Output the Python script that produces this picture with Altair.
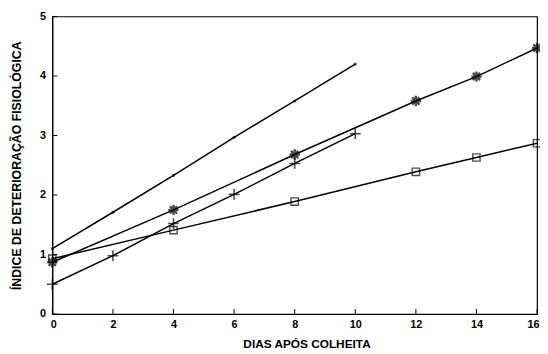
import altair as alt
import pandas as pd

dias_a = [0, 2, 4, 6, 8, 10]
serie_ponto = [1.10, 1.71, 2.33, 2.97, 3.58, 4.20]
serie_cruz = [0.50, 0.98, 1.52, 2.01, 2.53, 3.03]

dias_b = [0, 4, 8, 12, 14, 16]
serie_asterisco = [0.87, 1.75, 2.68, 3.58, 3.99, 4.47]
serie_quadrado = [0.93, 1.41, 1.89, 2.39, 2.63, 2.87]

x_ticks = [0, 2, 4, 6, 8, 10, 12, 14, 16]
y_ticks = [0, 1, 2, 3, 4, 5]

rows = []
for d, v in zip(dias_a, serie_ponto):
    rows.append({"dia": d, "valor": v, "serie": "ponto"})
for d, v in zip(dias_a, serie_cruz):
    rows.append({"dia": d, "valor": v, "serie": "cruz"})
for d, v in zip(dias_b, serie_asterisco):
    rows.append({"dia": d, "valor": v, "serie": "asterisco"})
for d, v in zip(dias_b, serie_quadrado):
    rows.append({"dia": d, "valor": v, "serie": "quadrado"})
df = pd.DataFrame(rows)
df_xt = pd.DataFrame({"dia": x_ticks})
df_yt = pd.DataFrame({"valor": y_ticks})

FONT = "Liberation Sans"
W, H = 492, 302

xscale = alt.Scale(domain=[0, 16], nice=False)
yscale = alt.Scale(domain=[0, 5], nice=False)

x = alt.X("dia:Q", scale=xscale,
          axis=alt.Axis(values=x_ticks, format="d", title="DIAS APÓS COLHEITA", grid=False,
                        ticks=False, labelPadding=5, titlePadding=9, titleX=258,
                        labelFont=FONT, labelFontWeight="bold", labelFontSize=11,
                        titleFont=FONT, titleFontWeight="bold", titleFontSize=12,
                        domainColor="black", labelColor="black",
                        titleColor="black", labelFlush=True, labelFlushOffset=2))
y = alt.Y("valor:Q", scale=yscale,
          axis=alt.Axis(values=y_ticks, format="d", title="ÍNDICE DE DETERIORAÇÃO FISIOLÓGICA",
                        grid=False, ticks=False, labelPadding=7, titlePadding=16,
                        labelFont=FONT, labelFontWeight="bold", labelFontSize=11,
                        titleFont=FONT, titleFontWeight="bold", titleFontSize=12.5,
                        domainColor="black", labelColor="black",
                        titleColor="black", labelFlush=False))

lines = alt.Chart(df).mark_line(color="black", strokeWidth=1.5).encode(
    x=x, y=y, detail="serie:N")

xt = alt.Chart(df_xt).mark_rule(color="black", strokeWidth=1).encode(
    x=alt.X("dia:Q", scale=xscale), y=alt.value(H), y2=alt.value(H - 5))
yt = alt.Chart(df_yt).mark_rule(color="black", strokeWidth=1).encode(
    y=alt.Y("valor:Q", scale=yscale), x=alt.value(0), x2=alt.value(5))

def pts(name, **kw):
    return alt.Chart(df).transform_filter(alt.datum.serie == name).mark_point(
        color="black", **kw).encode(x=x, y=y)

p_ponto = pts("ponto", shape="circle", filled=True, size=10)
p_cruz = pts("cruz", shape="M-1,0L1,0M0,-1L0,1", filled=False, size=120, strokeWidth=1.6)
p_ast = pts("asterisco", shape="M-1,0L1,0M0,-1L0,1M-0.7,-0.7L0.7,0.7M-0.7,0.7L0.7,-0.7",
            filled=False, size=110, strokeWidth=2.4)
p_quad = pts("quadrado", shape="square", filled=False, size=55, strokeWidth=1.4)

chart = alt.layer(lines, xt, yt, p_ponto, p_cruz, p_ast, p_quad).properties(
    width=W, height=H,
    autosize=alt.AutoSizeParams(type="none"),
    padding={"left": 45, "top": 6, "right": 3, "bottom": 38},
    background="white",
).configure_view(stroke="black", strokeWidth=1.2)

chart.save("out.html", embed_options={"renderer": "svg", "actions": False})
